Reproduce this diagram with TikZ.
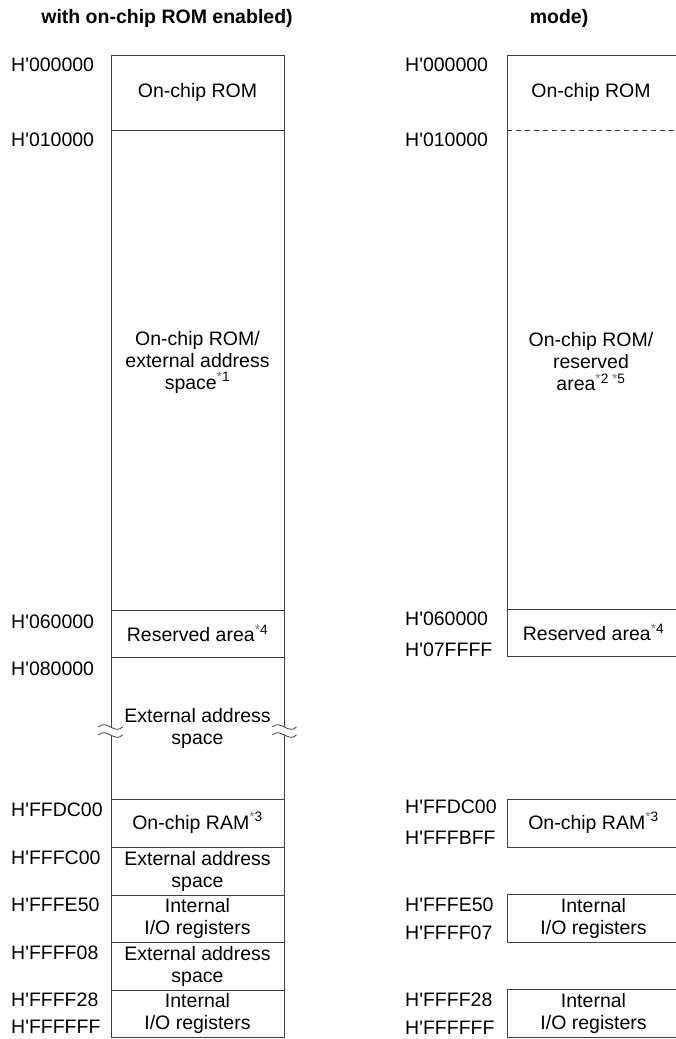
\documentclass[tikz,border=0pt]{standalone}
\usepackage{fontspec}
\setmainfont{Liberation Sans}
\usetikzlibrary{positioning}
\newcommand{\st}{\textcolor{black!55}{*}}
\newcommand{\nt}[1]{\textsuperscript{\st#1}}
\newcommand{\hx}{H\textquotesingle}

\begin{document}
\begin{tikzpicture}[
  x=1pt, y=-1pt,
  font=\fontsize{19.5}{22}\selectfont,
  area/.style={draw=black!75, line width=0.9pt, minimum width=173pt, inner sep=0pt, align=center},
  addr/.style={anchor=west, inner sep=0pt},
  title/.style={font=\fontsize{19.5}{22}\selectfont\bfseries, align=center},
]
\useasboundingbox (0,0) rectangle (676,1039);

% Titles
\node[title] (ltitle) at (167,18) {with on-chip ROM enabled)};
\node[title] (rtitle) at (559,18) {mode)};

% Left memory map
\node[area, minimum height=75pt]  (lrom)  at (197.5,92.5)  {On-chip ROM};
\node[area, minimum height=480pt] (lext1) at (197.5,370)   {};
\node (lext1txt) at (197.5,362) [align=center] {On-chip ROM/\\external address\\space\nt{1}};
\node[area, minimum height=47pt]  (lres)  at (197.5,633.5) {Reserved area\nt{4}};
\node[area, minimum height=142pt] (lext2) at (197.5,728)   {External address\\space};
\node[area, minimum height=48pt]  (lram)  at (197.5,823)   {On-chip RAM\nt{3}};
\node[area, minimum height=48pt]  (lext3) at (197.5,871)   {External address\\space};
\node[area, minimum height=47pt]  (lio1)  at (197.5,918.5) {Internal\\I/O registers};
\node[area, minimum height=48pt]  (lext4) at (197.5,966)   {External address\\space};
\node[area, minimum height=47pt]  (lio2)  at (197.5,1013.5){Internal\\I/O registers};

% Break marks
\foreach \s in {west,east} {
  \begin{scope}[shift={(lext2.\s)}, yshift=-3pt]
    \fill[white] (-12,-4) .. controls (-4,-12) and (4,4) .. (12,-4)
      -- (12,4) .. controls (4,12) and (-4,-4) .. (-12,4) -- cycle;
    \draw[black!75, line width=0.8pt] (-12,-4) .. controls (-4,-12) and (4,4) .. (12,-4);
    \draw[black!75, line width=0.8pt] (-12,4) .. controls (-4,-4) and (4,12) .. (12,4);
  \end{scope}
}

% Left addresses
\foreach \y/\a in {65/000000, 140/010000, 622/060000, 669/080000, 810/FFDC00,
                   858/FFFC00, 905/FFFE50, 953/FFFF08, 1000/FFFF28, 1027/FFFFFF} {
  \node[addr] (la\y) at (11,\y) {\hx\a};
}

% Right memory map
\node[area, minimum height=554pt] (rrom)  at (593.5,332)   {};
\coordinate (rsplit) at (507,130);
\draw[black!75, line width=0.9pt, dash pattern=on 5pt off 4pt] (rsplit) -- (rsplit -| rrom.east);
\node (rromtxt) at (591,92.5) {On-chip ROM};
\node (rresvtxt) at (591,362) [align=center] {On-chip ROM/\\reserved\\area\textsuperscript{\st2 \st5}};
\node[area, minimum height=47pt]  (rres)  at (593.5,632.5) {Reserved area\nt{4}};
\node[area, minimum height=48pt]  (rram)  at (593.5,823)   {On-chip RAM\nt{3}};
\node[area, minimum height=48pt]  (rio1)  at (593.5,918)   {Internal\\I/O registers};
\node[area, minimum height=48pt]  (rio2)  at (593.5,1013)  {Internal\\I/O registers};

% Right addresses
\foreach \y/\a in {65/000000, 140/010000, 619/060000, 650/07FFFF, 807/FFDC00,
                   838/FFFBFF, 905/FFFE50, 933/FFFF07, 1000/FFFF28, 1028/FFFFFF} {
  \node[addr] (ra\y) at (405,\y) {\hx\a};
}
\end{tikzpicture}
\end{document}
